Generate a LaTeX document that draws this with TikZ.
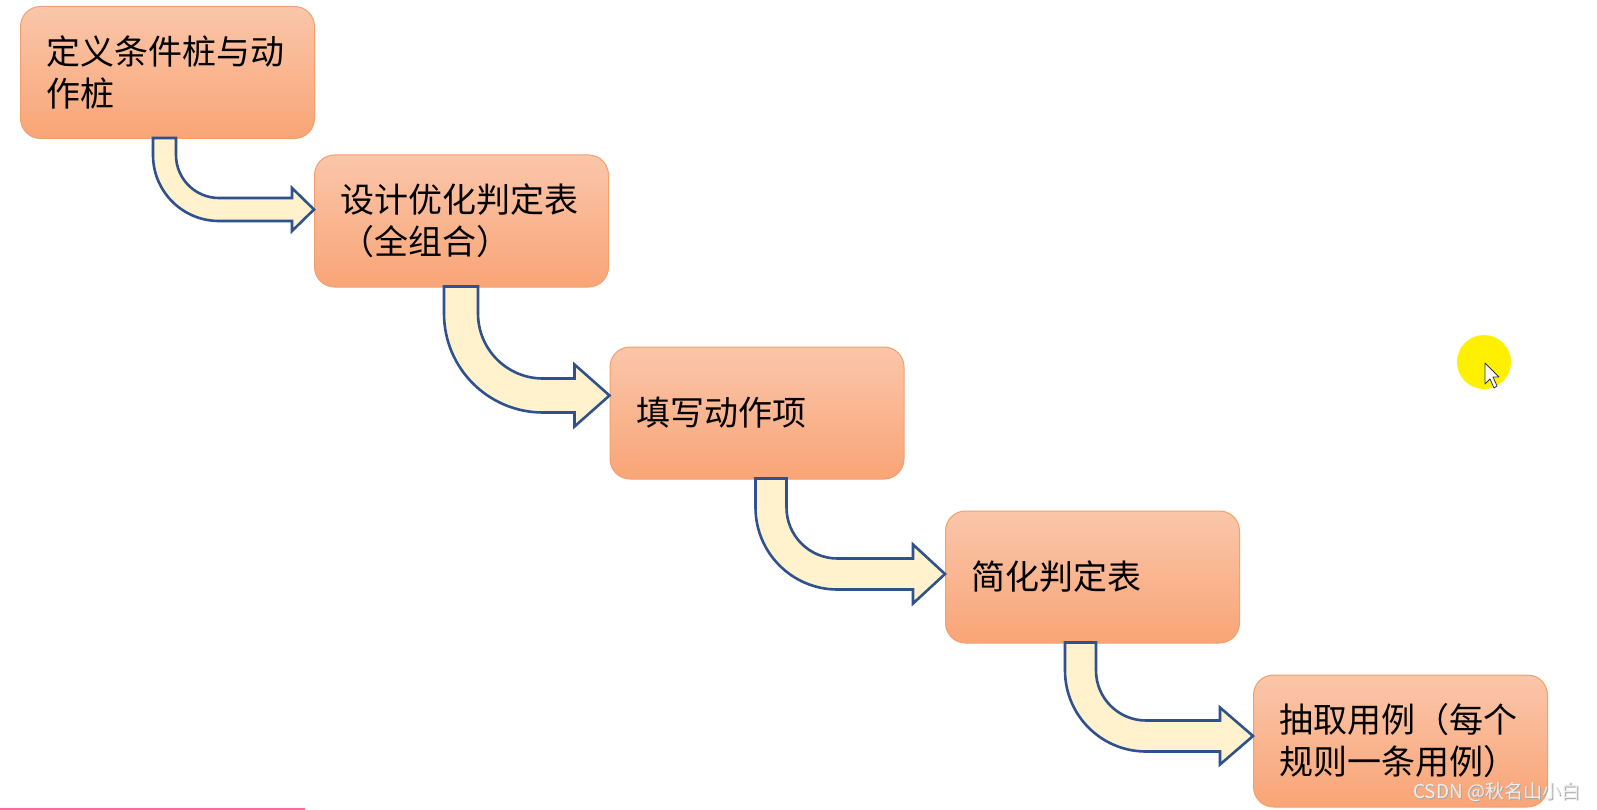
\documentclass[tikz,border=0pt]{standalone}
\usepackage{fontspec}
\newfontfamily\cjk{Noto Sans CJK SC}
\usetikzlibrary{calc}
\definecolor{boxtop}{RGB}{250,198,170}
\definecolor{boxbot}{RGB}{249,165,118}
\definecolor{boxline}{RGB}{243,160,110}
\definecolor{arrline}{RGB}{47,82,143}
\definecolor{arrfill}{RGB}{255,242,204}
\definecolor{pinkline}{RGB}{255,105,155}
\definecolor{cursoryellow}{RGB}{255,240,0}
% #1 from, #2 to, #3 x offset, #4 shaft width, #5 inner radius, #6 straight length, #7 head half height, #8 head length
\newcommand{\bentarrow}[8]{%
 \draw[blockarrow] let \p1=(#1.south west), \p2=(#2.west) in
  ({\x1+#3},{\y1+1}) -- ({\x1+#3},{\y1-#6})
  .. controls ({\x1+#3},{\y1-#6-0.5523*(#5+#4)}) and ({\x1+#3+#4+#5-0.5523*(#5+#4)},{\y1-#6-#5-#4}) .. ({\x1+#3+#4+#5},{\y1-#6-#5-#4})
  -- ({\x2-#8},{\y1-#6-#5-#4})
  -- ({\x2-#8},{\y1-#6-#5-#4/2-#7})
  -- ({\x2},{\y1-#6-#5-#4/2})
  -- ({\x2-#8},{\y1-#6-#5-#4/2+#7})
  -- ({\x2-#8},{\y1-#6-#5})
  -- ({\x1+#3+#4+#5},{\y1-#6-#5})
  .. controls ({\x1+#3+#4+#5-0.5523*#5},{\y1-#6-#5}) and ({\x1+#3+#4},{\y1-#6-0.5523*#5}) .. ({\x1+#3+#4},{\y1-#6})
  -- ({\x1+#3+#4},{\y1+1}) -- cycle;
}
\begin{document}
\begin{tikzpicture}[x=1pt,y=1pt,
  stepbox/.style={rounded corners=20pt, draw=boxline, line width=1pt,
    top color=boxtop, bottom color=boxbot,
    minimum width=294pt, minimum height=132pt, text width=242pt,
    inner xsep=0pt, align=left,
    font=\cjk\fontsize{34}{42}\selectfont},
  blockarrow/.style={draw=arrline, fill=arrfill, line width=2.6pt, line join=miter},
  wmark/.style={anchor=west, font=\cjk\fontsize{19}{19}\selectfont, inner sep=0pt}]
\useasboundingbox (0,0) rectangle (1597,-810);
\fill[white] (0,0) rectangle (1597,-810);

\node[stepbox] (b1) at (167.5,-72.5) {定义条件桩与动\\作桩};
\node[stepbox] (b2) at (461.5,-221) {设计优化判定表\\（全组合）};
\node[stepbox] (b3) at (757,-413) {填写动作项};
\node[stepbox] (b4) at (1092.5,-577) {简化判定表};
\node[stepbox] (b5) at (1400.5,-741) {抽取用例（每个\\规则一条用例）};

\bentarrow{b1}{b2}{133}{23}{43}{16}{21.5}{22}
\bentarrow{b2}{b3}{130}{34}{65}{26}{31}{35}
\bentarrow{b3}{b4}{146}{31}{51}{28}{29.5}{32}
\bentarrow{b4}{b5}{120}{31}{50}{27}{28.5}{33}

\fill[cursoryellow] (1484,-362) circle[radius=27pt];
\filldraw[fill=white, draw=black!80, line width=0.8pt, line join=round]
  (1485,-363) -- ++(0,-21) -- ++(5,5) -- ++(4,-9) -- ++(3,2) -- ++(-4,9) -- ++(6,0) -- cycle;

\node[wmark, text=gray!70] (wmshadow) at (1414,-793) {CSDN @秋名山小白};
\node[wmark, text={rgb,255:red,238;green,238;blue,238}] (wm) at (1413,-792) {CSDN @秋名山小白};

\draw[pinkline, line width=2pt] (0,-809) -- (305,-809);
\end{tikzpicture}
\end{document}
